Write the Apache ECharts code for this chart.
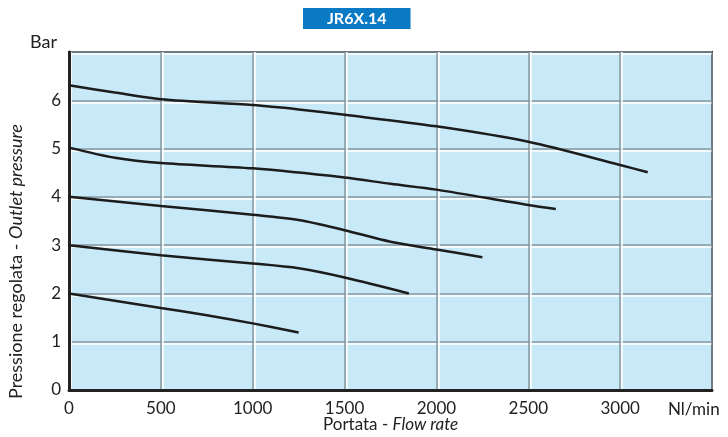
<!DOCTYPE html>
<html>
<head>
<meta charset="utf-8">
<script src="https://cdn.jsdelivr.net/npm/echarts@6/dist/echarts.min.js"></script>
<style>
  html, body { margin: 0; padding: 0; background: #ffffff; }
  #chart { width: 728px; height: 437px; }
</style>
</head>
<body>
<div id="chart"></div>
<script>
// Flow (Nl/min) vs outlet pressure (bar) for the JR6X.14 regulator
const flowTicks = [0, 500, 1000, 1500, 2000, 2500, 3000];
const pressureTicks = [0, 1, 2, 3, 4, 5, 6];

const curve6 = [[0, 6.31], [250, 6.16], [500, 6.02], [1000, 5.90], [1250, 5.81], [1500, 5.70], [2000, 5.46], [2500, 5.14], [3000, 4.66], [3150, 4.51]];
const curve5 = [[0, 5.02], [250, 4.81], [500, 4.70], [1000, 4.59], [1500, 4.40], [1750, 4.27], [2000, 4.15], [2500, 3.83], [2650, 3.75]];
const curve4 = [[0, 4.00], [500, 3.81], [1000, 3.63], [1250, 3.52], [1500, 3.31], [1750, 3.07], [2000, 2.91], [2250, 2.75]];
const curve3 = [[0, 3.00], [500, 2.79], [1000, 2.62], [1250, 2.52], [1500, 2.33], [1850, 2.00]];
const curve2 = [[0, 2.00], [500, 1.70], [750, 1.55], [1000, 1.38], [1250, 1.19]];

const curves = [curve6, curve5, curve4, curve3, curve2];

const FONT = 'Lato, "Open Sans", sans-serif';

const chart = echarts.init(document.getElementById('chart'), null, { renderer: 'canvas' });

chart.setOption({
  animation: false,
  backgroundColor: '#ffffff',
  title: {
    text: 'JR6X.14',
    left: 303,
    top: 8,
    padding: [2, 24, 2, 24],
    backgroundColor: '#0b7ac4',
    textStyle: { color: '#ffffff', fontFamily: FONT, fontWeight: 'bold', fontSize: 16, lineHeight: 17 }
  },
  grid: {
    left: 69, right: 16, top: 52, bottom: 47,
    show: true,
    backgroundColor: '#c8e9f8',
    borderColor: '#222222',
    borderWidth: 2
  },
  xAxis: {
    type: 'value',
    min: 0, max: 3500, interval: 500,
    axisLine: { show: true, lineStyle: { color: '#222222', width: 3 } },
    axisTick: { show: false },
    axisLabel: {
      color: '#222222', fontFamily: FONT, fontSize: 17, margin: 10,
      formatter: v => (flowTicks.indexOf(v) >= 0 ? String(v) : '')
    },
    splitLine: {
      show: true,
      lineStyle: { color: '#8796a0', width: 1.5, shadowColor: '#ffffff', shadowOffsetX: 2, shadowBlur: 0 }
    }
  },
  yAxis: {
    type: 'value',
    min: 0, max: 7, interval: 1,
    axisLine: { show: true, lineStyle: { color: '#222222', width: 3 } },
    axisTick: { show: false },
    axisLabel: {
      color: '#222222', fontFamily: FONT, fontSize: 17, margin: 8,
      formatter: v => (pressureTicks.indexOf(v) >= 0 ? String(v) : '')
    },
    splitLine: {
      show: true,
      lineStyle: { color: '#8796a0', width: 1.5, shadowColor: '#ffffff', shadowOffsetY: 2, shadowBlur: 0 }
    }
  },
  graphic: [
    { type: 'text', left: 30, top: 33, style: { text: 'Bar', fill: '#222222', font: '18px ' + FONT } },
    { type: 'text', left: 668, top: 401, style: { text: 'Nl/min', fill: '#222222', font: '17px ' + FONT } },
    {
      type: 'text', left: 323, top: 416,
      style: {
        text: '{n|Portata - }{i|Flow rate}',
        rich: {
          n: { fill: '#222222', font: '17px ' + FONT },
          i: { fill: '#222222', font: 'italic 17px ' + FONT }
        }
      }
    },
    {
      type: 'text', x: 7, y: 399, rotation: Math.PI / 2,
      style: {
        text: '{n|Pressione regolata - }{i|Outlet pressure}',
        rich: {
          n: { fill: '#222222', font: '18px ' + FONT },
          i: { fill: '#222222', font: 'italic 18px ' + FONT }
        }
      }
    }
  ],
  series: curves.map(data => ({
    type: 'line',
    data: data,
    smooth: 0.3,
    showSymbol: false,
    lineStyle: { color: '#1c1c1c', width: 2.5 }
  }))
});
</script>
</body>
</html>
